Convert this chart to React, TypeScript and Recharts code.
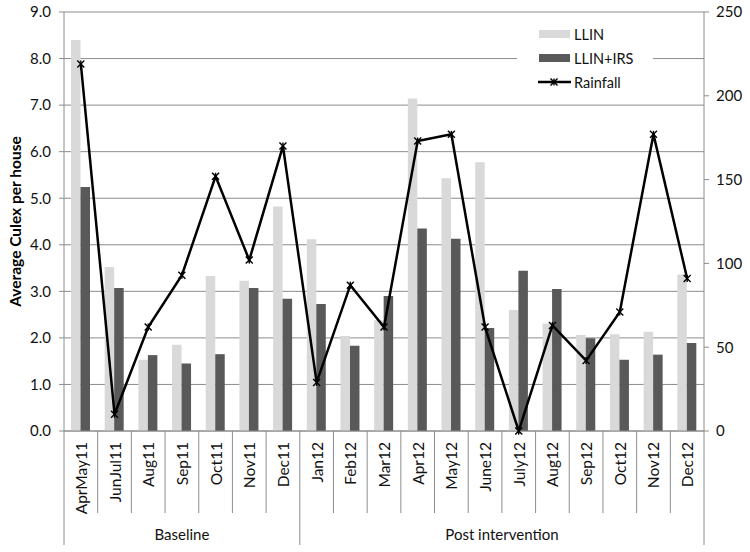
import {
  ComposedChart,
  Bar,
  Line,
  XAxis,
  YAxis,
  CartesianGrid,
  Label,
} from "recharts"

const months = [
  "AprMay11", "JunJul11", "Aug11", "Sep11", "Oct11", "Nov11", "Dec11",
  "Jan12", "Feb12", "Mar12", "Apr12", "May12", "June12", "July12",
  "Aug12", "Sep12", "Oct12", "Nov12", "Dec12",
]
const llin = [8.4, 3.52, 1.53, 1.85, 3.33, 3.23, 4.82, 4.12, 2.04, 2.38, 7.14, 5.43, 5.77, 2.6, 2.31, 2.06, 2.08, 2.13, 3.36]
const llinIrs = [5.24, 3.07, 1.63, 1.45, 1.65, 3.07, 2.84, 2.73, 1.83, 2.9, 4.35, 4.13, 2.21, 3.44, 3.05, 1.99, 1.53, 1.64, 1.89]
const rainfall = [219, 10, 62, 93, 152, 102, 170, 29, 87, 62, 173, 177, 62, 0, 63, 42, 71, 177, 91]
const leftTicks = [0, 1, 2, 3, 4, 5, 6, 7, 8, 9]
const rightTicks = [0, 50, 100, 150, 200, 250]
const groups = [
  { label: "Baseline", from: 0, to: 6 },
  { label: "Post intervention", from: 7, to: 18 },
]

const W = 750
const H = 552
const LEFT = 64
const RIGHT = 46
const TOP = 12
const XH = 121
const BAND = (W - LEFT - RIGHT) / months.length
const PLOT_BOTTOM = H - XH
const FONT = "Lato, 'Open Sans', sans-serif"
const AXIS_GRAY = "#8c8c8c"

const data = months.map((m, i) => ({
  month: m,
  llin: llin[i],
  llinIrs: llinIrs[i],
  rainfall: rainfall[i],
}))

const XTick = ({ x, payload, index }: any) => {
  const half = BAND / 2
  const isGroupEdge = groups.some((g) => g.from === index)
  const isLast = index === months.length - 1
  const group = groups.find((g) => Math.floor((g.from + g.to) / 2) === index)
  let groupX = x
  if (group && (group.to - group.from) % 2 === 1) groupX = x + half
  return (
    <g>
      <line x1={x - half} x2={x - half} y1={PLOT_BOTTOM} y2={isGroupEdge ? 545 : 513} stroke={AXIS_GRAY} />
      {isLast && <line x1={x + half} x2={x + half} y1={PLOT_BOTTOM} y2={545} stroke={AXIS_GRAY} />}
      <text
        x={x}
        y={PLOT_BOTTOM + 11}
        transform={`rotate(-90 ${x} ${PLOT_BOTTOM + 11})`}
        textAnchor="end"
        dominantBaseline="central"
        fontSize={15.5}
        fill="#111"
        fontFamily={FONT}
      >
        {payload.value}
      </text>
      {group && (
        <text x={groupX} y={540} textAnchor="middle" fontSize={15} fill="#111" fontFamily={FONT}>
          {group.label}
        </text>
      )}
    </g>
  )
}

const RainDot = ({ cx, cy }: any) => {
  const s = 3.5
  return (
    <g stroke="#000" strokeWidth={1.4}>
      <line x1={cx - s} y1={cy - s} x2={cx + s} y2={cy + s} />
      <line x1={cx - s} y1={cy + s} x2={cx + s} y2={cy - s} />
      <line x1={cx} y1={cy - s} x2={cx} y2={cy + s} />
    </g>
  )
}

const LegendBox = () => (
  <div
    style={{
      position: "absolute",
      left: 517,
      top: 22,
      width: 136,
      height: 74,
      background: "#fff",
      fontFamily: FONT,
      fontSize: 14.5,
      color: "#111",
    }}
  >
    {[
      { name: "LLIN", color: "#d9d9d9", type: "bar" },
      { name: "LLIN+IRS", color: "#595959", type: "bar" },
      { name: "Rainfall", color: "#000", type: "line" },
    ].map((it, i) => (
      <div key={it.name} style={{ position: "absolute", left: 21, top: 3 + i * 24, height: 18, display: "flex", alignItems: "center" }}>
        <svg width={34} height={18} style={{ display: "block" }}>
          {it.type === "bar" ? (
            <rect x={1} y={5} width={31} height={8} fill={it.color} />
          ) : (
            <g>
              <line x1={0} x2={33} y1={9} y2={9} stroke="#000" strokeWidth={2.5} />
              <RainDot cx={16} cy={9} />
            </g>
          )}
        </svg>
        <span style={{ marginLeft: 2 }}>{it.name}</span>
      </div>
    ))}
  </div>
)

export default function App() {
  return (
    <div style={{ position: "absolute", left: 0, top: 0, width: W, height: H, background: "#fff" }}>
      <ComposedChart
        width={W}
        height={H}
        data={data}
        margin={{ top: TOP, right: 0, left: 0, bottom: 0 }}
        barGap={0}
        style={{ fontFamily: FONT }}
      >
        <CartesianGrid yAxisId="left" vertical={false} stroke={AXIS_GRAY} />
        <XAxis
          dataKey="month"
          interval={0}
          height={XH}
          tickLine={false}
          axisLine={{ stroke: AXIS_GRAY }}
          tick={<XTick />}
        />
        <YAxis
          yAxisId="left"
          width={LEFT}
          domain={[0, 9]}
          ticks={leftTicks}
          tickFormatter={(v: number) => v.toFixed(1)}
          axisLine={{ stroke: AXIS_GRAY }}
          tickLine={{ stroke: AXIS_GRAY }}
          tickSize={5}
          tickMargin={8}
          tick={{ fill: "#111", fontSize: 15, fontFamily: FONT }}
        >
          <Label
            value="Average Culex per house"
            angle={-90}
            position="insideLeft"
            offset={15}
            style={{ textAnchor: "middle", fontWeight: 700, fontSize: 15.5, fill: "#000", fontFamily: FONT }}
          />
        </YAxis>
        <YAxis
          yAxisId="right"
          orientation="right"
          width={RIGHT}
          domain={[0, 250]}
          ticks={rightTicks}
          axisLine={{ stroke: AXIS_GRAY }}
          tickLine={{ stroke: AXIS_GRAY }}
          tickSize={5}
          tickMargin={7}
          tick={{ fill: "#111", fontSize: 15, fontFamily: FONT }}
        />
        <Bar yAxisId="left" dataKey="llin" name="LLIN" fill="#d9d9d9" barSize={9.5} isAnimationActive={false} />
        <Bar yAxisId="left" dataKey="llinIrs" name="LLIN+IRS" fill="#595959" barSize={9.5} isAnimationActive={false} />
        <Line
          yAxisId="right"
          dataKey="rainfall"
          name="Rainfall"
          stroke="#000"
          strokeWidth={2.5}
          dot={<RainDot />}
          activeDot={false}
          isAnimationActive={false}
        />
      </ComposedChart>
      <LegendBox />
    </div>
  )
}
